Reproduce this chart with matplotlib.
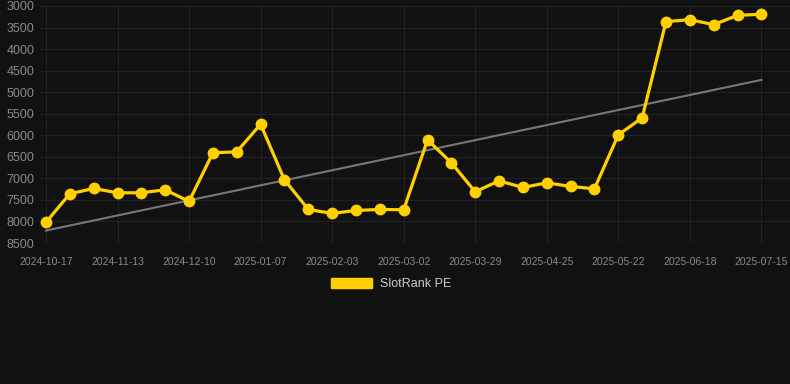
import matplotlib

matplotlib.use("Agg")

import numpy as np
import matplotlib.pyplot as plt

# weekly-ish snapshots of the SlotRank position (lower is better)
dates = [
    "2024-10-17", "2024-10-26", "2024-11-04", "2024-11-13", "2024-11-22",
    "2024-12-01", "2024-12-10", "2024-12-19", "2024-12-28", "2025-01-07",
    "2025-01-16", "2025-01-25", "2025-02-03", "2025-02-12", "2025-02-21",
    "2025-03-02", "2025-03-11", "2025-03-20", "2025-03-29", "2025-04-07",
    "2025-04-16", "2025-04-25", "2025-05-04", "2025-05-13", "2025-05-22",
    "2025-05-31", "2025-06-09", "2025-06-18", "2025-06-27", "2025-07-06",
    "2025-07-15",
]
rank_pe = [
    8020, 7358, 7235, 7335, 7335, 7265, 7536, 6407, 6384, 5743,
    7033, 7721, 7814, 7745, 7721, 7729, 6106, 6639, 7311, 7057,
    7211, 7103, 7188, 7242, 5990, 5596, 3363, 3317, 3433, 3216,
    3193,
]
y_ticks = [3000, 3500, 4000, 4500, 5000, 5500, 6000, 6500, 7000, 7500, 8000, 8500]

BG = "#111111"
GOLD = "#ffd000"
GRID = "#222222"
TICK = "#8a8a8a"

plt.rcParams["font.family"] = ["Liberation Sans", "DejaVu Sans"]

fig = plt.figure(figsize=(7.9, 3.84), dpi=100, facecolor=BG)
ax = fig.add_axes([40 / 790, 1 - 243 / 384, 750 / 790, 237 / 384], facecolor=BG)

x = np.arange(len(dates))
y = np.array(rank_pe, dtype=float)

# linear trend over the series
k, b = np.polyfit(x, y, 1)
ax.plot(x, k * x + b, color="#777777", lw=1.5, zorder=2)

ax.plot(x, y, color=GOLD, lw=2.3, marker="o", ms=7.5, mfc=GOLD, mec=GOLD, zorder=3)

ax.set_ylim(8500, 3000)
ax.set_yticks(y_ticks)
ax.set_xlim(-0.25, 31.2)
shown = list(range(0, len(dates), 3))
ax.set_xticks(shown)
ax.set_xticklabels([dates[i] for i in shown])

ax.grid(True, color=GRID, lw=0.8)
ax.set_axisbelow(True)
for s in ax.spines.values():
    s.set_visible(False)
ax.tick_params(axis="y", colors=TICK, labelsize=9, length=0, pad=4)
ax.tick_params(axis="x", colors=TICK, labelsize=7.5, length=0, pad=10)

# legend drawn as a patch + label below the plot
leg_h = [plt.Rectangle((0, 0), 1, 1, color=GOLD)]
fig.legend(leg_h, ["SlotRank PE"], loc="center", bbox_to_anchor=(0.495, 1 - 284 / 384),
           frameon=False, fontsize=9, labelcolor="#cccccc", handlelength=3.3,
           handleheight=0.9, handletextpad=0.6)

fig.savefig("out.png", dpi=100, facecolor=BG)
plt.close(fig)
